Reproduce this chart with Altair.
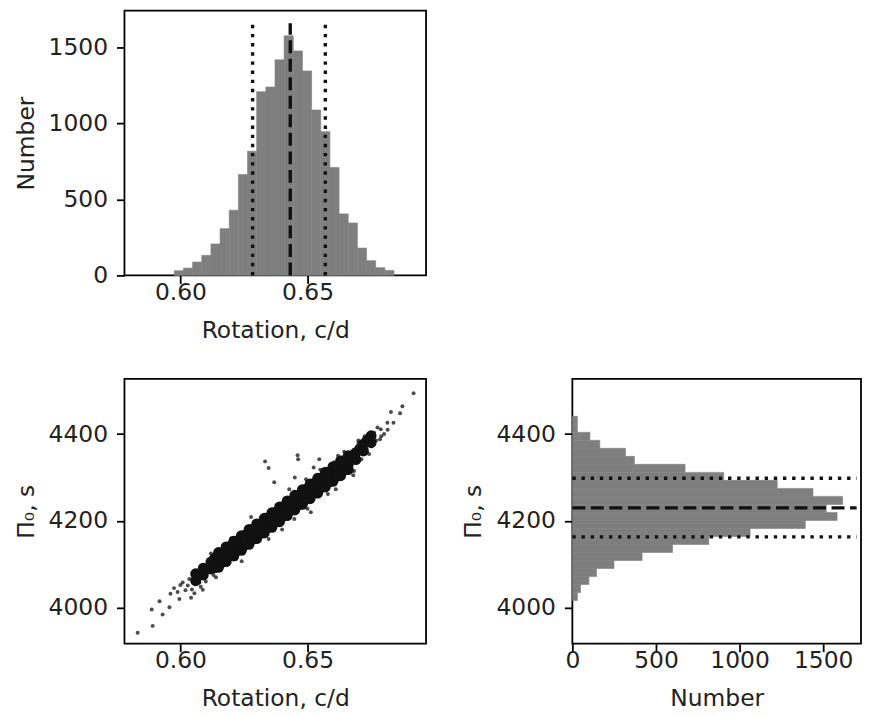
import altair as alt
import pandas as pd

# ---------------- data ----------------
# Top histogram: rotation frequency (c/d)
rot_bin_lo = [0.5976, 0.6012, 0.6048, 0.6084, 0.6120, 0.6156, 0.6192, 0.6228,
              0.6264, 0.6300, 0.6336, 0.6372, 0.6408, 0.6444, 0.6480, 0.6516,
              0.6552, 0.6588, 0.6624, 0.6660, 0.6696, 0.6732, 0.6768, 0.6804]
rot_bin_width = 0.0036
rot_counts = [31, 48, 88, 132, 207, 308, 429, 664, 818, 1209, 1240, 1419,
              1577, 1478, 1346, 1089, 946, 711, 405, 345, 180, 97, 51, 33]
rot_median = 0.6432
rot_bounds = [0.6284, 0.6570]
rot_line_top = 1660

# Right histogram: period spacing Pi0 (s)
pi_bin_lo = [4016.5, 4034.9, 4053.4, 4071.8, 4090.3, 4108.7, 4127.2, 4145.6,
             4164.1, 4182.5, 4201.0, 4219.4, 4237.9, 4256.3, 4274.8, 4293.2,
             4311.7, 4330.1, 4348.6, 4367.0, 4385.5, 4403.9, 4422.4]
pi_bin_width = 18.45
pi_counts = [30, 49, 99, 144, 249, 417, 599, 816, 1063, 1393, 1583, 1518,
             1616, 1439, 1225, 905, 674, 371, 318, 164, 105, 30, 30]
pi_median = 4230
pi_bounds = [4163, 4298]
pi_line_end = 1700

# Scatter: dense core of the cloud
core_rot = [0.606, 0.606, 0.609, 0.609, 0.612, 0.612,
            0.615, 0.615, 0.615, 0.615, 0.618, 0.618, 0.618, 0.618,
            0.621, 0.621, 0.621, 0.621, 0.624, 0.624, 0.624, 0.624,
            0.627, 0.627, 0.627, 0.627, 0.630, 0.630, 0.630, 0.630,
            0.633, 0.633, 0.633, 0.633, 0.636, 0.636, 0.636, 0.636,
            0.639, 0.639, 0.639, 0.639, 0.642, 0.642, 0.642, 0.642,
            0.645, 0.645, 0.645, 0.645, 0.648, 0.648, 0.648, 0.648,
            0.651, 0.651, 0.651, 0.651, 0.654, 0.654, 0.654, 0.654,
            0.657, 0.657, 0.657, 0.657, 0.660, 0.660, 0.660, 0.660,
            0.663, 0.663, 0.663, 0.663, 0.666, 0.666, 0.666, 0.666,
            0.669, 0.669, 0.672, 0.672, 0.675, 0.675,
            0.6135, 0.6135, 0.6135, 0.6165, 0.6165, 0.6165,
            0.6195, 0.6195, 0.6195, 0.6225, 0.6225, 0.6225,
            0.6255, 0.6255, 0.6255, 0.6285, 0.6285, 0.6285,
            0.6315, 0.6315, 0.6315, 0.6345, 0.6345, 0.6345,
            0.6375, 0.6375, 0.6375, 0.6405, 0.6405, 0.6405,
            0.6435, 0.6435, 0.6435, 0.6465, 0.6465, 0.6465,
            0.6495, 0.6495, 0.6495, 0.6525, 0.6525, 0.6525,
            0.6555, 0.6555, 0.6555, 0.6585, 0.6585, 0.6585,
            0.6615, 0.6615, 0.6615, 0.6645, 0.6645, 0.6645,
            0.6075, 0.6105, 0.6675, 0.6705, 0.6735]
core_pi = [4062, 4078, 4075, 4091, 4089, 4105,
           4093, 4105, 4115, 4127, 4106, 4118, 4128, 4140,
           4119, 4131, 4141, 4153, 4132, 4144, 4154, 4166,
           4146, 4158, 4168, 4180, 4159, 4171, 4181, 4193,
           4172, 4184, 4194, 4206, 4185, 4197, 4207, 4219,
           4198, 4210, 4220, 4232, 4212, 4224, 4234, 4246,
           4225, 4237, 4247, 4259, 4238, 4250, 4260, 4272,
           4251, 4263, 4273, 4285, 4264, 4276, 4286, 4298,
           4278, 4290, 4300, 4312, 4291, 4303, 4313, 4325,
           4304, 4316, 4326, 4338, 4318, 4329, 4339, 4350,
           4341, 4357, 4361, 4377, 4380, 4396,
           4092, 4103, 4114, 4105, 4116, 4127,
           4119, 4130, 4141, 4132, 4143, 4154,
           4145, 4156, 4167, 4158, 4169, 4180,
           4171, 4182, 4193, 4185, 4196, 4207,
           4198, 4209, 4220, 4211, 4222, 4233,
           4224, 4235, 4246, 4237, 4248, 4259,
           4251, 4262, 4273, 4264, 4275, 4286,
           4277, 4288, 4299, 4290, 4301, 4312,
           4303, 4314, 4325, 4317, 4328, 4339,
           4076, 4090, 4350, 4366, 4386]

# Scatter: sparse halo and outliers
sparse_rot = [0.5832, 0.5891, 0.5887, 0.5930, 0.5918, 0.5957, 0.5961, 0.5989,
              0.5996, 0.6009, 0.6042, 0.6055, 0.6029, 0.6075, 0.6088, 0.6160,
              0.6241, 0.6173, 0.6278, 0.6347, 0.6917, 0.6873, 0.6864, 0.6828,
              0.6838, 0.6814, 0.6788, 0.6801, 0.6762, 0.6785, 0.6742, 0.6712,
              0.6461, 0.6463, 0.6546, 0.6524, 0.6450, 0.6494, 0.6644, 0.6605,
              0.6369, 0.6611, 0.6513, 0.6428, 0.6683, 0.6333, 0.6347, 0.6448,
              0.6120, 0.6200, 0.6260, 0.6550, 0.6620, 0.6700, 0.6220, 0.6400,
              0.6500, 0.6580, 0.6680, 0.6020, 0.6100, 0.6130,
              0.5975, 0.6000, 0.6035, 0.6060, 0.6045, 0.6080, 0.6110, 0.6140,
              0.6770, 0.6775, 0.6790, 0.6815, 0.6745, 0.6725, 0.6700, 0.6690]
sparse_pi = [3942, 3958, 3996, 3984, 4015, 4001, 4032, 4036,
             4020, 4058, 4023, 4033, 4051, 4058, 4041, 4089,
             4107, 4117, 4209, 4158, 4494, 4464, 4448, 4451,
             4426, 4426, 4411, 4400, 4403, 4388, 4354, 4342,
             4351, 4342, 4342, 4323, 4300, 4296, 4359, 4335,
             4289, 4273, 4220, 4273, 4315, 4337, 4322, 4204,
             4125, 4160, 4185, 4318, 4350, 4380, 4112, 4180,
             4228, 4262, 4305, 4040, 4060, 4075,
             4045, 4052, 4066, 4070, 4042, 4048, 4098, 4070,
             4385, 4415, 4395, 4410, 4376, 4395, 4385, 4336]

# ---------------- tables ----------------
rot_df = pd.DataFrame({"lo": rot_bin_lo,
                       "hi": [v + rot_bin_width for v in rot_bin_lo],
                       "count": rot_counts, "zero": 0})
pi_df = pd.DataFrame({"lo": pi_bin_lo,
                      "hi": [v + pi_bin_width for v in pi_bin_lo],
                      "count": pi_counts, "zero": 0})
core_df = pd.DataFrame({"rot": core_rot, "pi": core_pi})
sparse_df = pd.DataFrame({"rot": sparse_rot, "pi": sparse_pi})
rot_med_df = pd.DataFrame({"x": [rot_median], "y0": [0], "y1": [rot_line_top]})
rot_bnd_df = pd.DataFrame({"x": rot_bounds, "y0": [0, 0], "y1": [rot_line_top] * 2})
pi_med_df = pd.DataFrame({"y": [pi_median], "x0": [0], "x1": [pi_line_end]})
pi_bnd_df = pd.DataFrame({"y": pi_bounds, "x0": [0, 0], "x1": [pi_line_end] * 2})

BAR = "#7f7f7f"
INK = "#111111"
LW = 3.4
DASH = [13, 5.6]
DOT = [3.4, 5.8]
FS = 23.5

rot_scale = alt.Scale(domain=[0.578, 0.6966], nice=False, zero=False)
rot_axis = alt.Axis(values=[0.60, 0.65], format=".2f", title="Rotation, c/d")
cnt_scale_top = alt.Scale(domain=[0, 1743], nice=False)
cnt_scale_right = alt.Scale(domain=[0, 1726], nice=False)
cnt_axis = alt.Axis(values=[0, 500, 1000, 1500], format="d", title="Number")
pi_scale = alt.Scale(domain=[3917, 4527], nice=False, zero=False)
pi_axis = alt.Axis(values=[4000, 4200, 4400], format="d", title="Π₀, s")

# ---------------- top histogram ----------------
top_bars = alt.Chart(rot_df).mark_rect(color=BAR, stroke=BAR, strokeWidth=0.6).encode(
    x=alt.X("lo:Q", scale=rot_scale, axis=rot_axis),
    x2="hi:Q",
    y=alt.Y("count:Q", scale=cnt_scale_top, axis=cnt_axis),
    y2="zero:Q",
)
top_med = alt.Chart(rot_med_df).mark_rule(color=INK, strokeWidth=LW, strokeDash=DASH).encode(
    x="x:Q", y="y0:Q", y2="y1:Q")
top_bnd = alt.Chart(rot_bnd_df).mark_rule(color=INK, strokeWidth=LW, strokeDash=DOT).encode(
    x="x:Q", y="y0:Q", y2="y1:Q")
top = alt.layer(top_bars, top_bnd, top_med).properties(width=303, height=266)

# ---------------- scatter ----------------
sc_sparse = alt.Chart(sparse_df).mark_circle(color="black", size=16, opacity=0.7, clip=True).encode(
    x=alt.X("rot:Q", scale=rot_scale, axis=rot_axis),
    y=alt.Y("pi:Q", scale=pi_scale, axis=pi_axis),
)
sc_core = alt.Chart(core_df).mark_circle(color="#111111", size=120, opacity=1, clip=True).encode(
    x=alt.X("rot:Q", scale=rot_scale, axis=rot_axis),
    y=alt.Y("pi:Q", scale=pi_scale, axis=pi_axis),
)
scatter = alt.layer(sc_sparse, sc_core).properties(width=303, height=266)

# ---------------- right histogram ----------------
r_bars = alt.Chart(pi_df).mark_rect(color=BAR, stroke=BAR, strokeWidth=0.6).encode(
    y=alt.Y("lo:Q", scale=pi_scale, axis=pi_axis),
    y2="hi:Q",
    x=alt.X("count:Q", scale=cnt_scale_right, axis=cnt_axis),
    x2="zero:Q",
)
r_med = alt.Chart(pi_med_df).mark_rule(color=INK, strokeWidth=LW, strokeDash=DASH).encode(
    y="y:Q", x="x0:Q", x2="x1:Q")
r_bnd = alt.Chart(pi_bnd_df).mark_rule(color=INK, strokeWidth=LW, strokeDash=DOT).encode(
    y="y:Q", x="x0:Q", x2="x1:Q")
right = alt.layer(r_bars, r_bnd, r_med).properties(width=290, height=266)

chart = alt.vconcat(
    top,
    alt.hconcat(scatter, right, spacing=34),
    spacing=35,
).properties(
    padding={"left": 5, "top": 0, "right": 0, "bottom": 0}
).configure_view(
    stroke="black", strokeWidth=1.8
).configure_axis(
    domain=False, grid=False, labelFlush=False,
    tickColor="black", tickWidth=1.8, tickSize=8,
    labelFont="DejaVu Sans", labelFontSize=FS, labelColor="#222222",
    titleFont="DejaVu Sans", titleFontSize=FS, titleFontWeight="normal",
    titleColor="#222222",
).configure_axisX(
    labelPadding=-3, titlePadding=15
).configure_axisY(
    labelPadding=9, titlePadding=10
)

chart.save("out.html", embed_options={"renderer": "svg", "actions": False})
